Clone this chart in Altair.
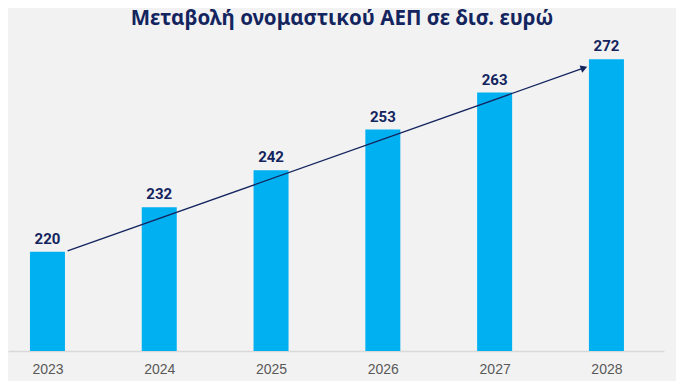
import altair as alt
import pandas as pd

years = [2023, 2024, 2025, 2026, 2027, 2028]
values = [220, 232, 242, 253, 263, 272]

arrow_x = [2023.18, 2027.80]
arrow_y = [220.2, 269.65]

title_text = "Μεταβολή ονομαστικού ΑΕΠ σε δισ. ευρώ"

df = pd.DataFrame({"year": years, "value": values})
arrow_df = pd.DataFrame({"x": arrow_x, "y": arrow_y})
head_df = arrow_df.tail(1).reset_index(drop=True)

X_DOMAIN = [2022.647, 2028.515]
Y_DOMAIN = [193.16, 275.05]

xs = alt.Scale(domain=X_DOMAIN, nice=False, zero=False, padding=0)
ys = alt.Scale(domain=Y_DOMAIN, nice=False, zero=False, padding=0)

NAVY = "#13245e"

bars = alt.Chart(df).mark_bar(color="#00b0f0", size=35, clip=True).encode(
    x=alt.X("year:Q", scale=xs,
            axis=alt.Axis(values=years, format="d", title=None, grid=False,
                          domain=True, domainColor="#d9d9d9", domainWidth=1.5,
                          ticks=False, labelFont="Liberation Sans",
                          labelFontSize=14, labelColor="#595959", labelPadding=11)),
    y=alt.Y("value:Q", scale=ys, axis=None),
)

labels = alt.Chart(df).mark_text(
    dy=-13, fontSize=15, fontWeight="bold", color=NAVY, font="Roboto"
).encode(x=alt.X("year:Q", scale=xs), y=alt.Y("value:Q", scale=ys), text="value:Q")

line = alt.Chart(arrow_df).mark_line(color=NAVY, strokeWidth=1.3).encode(
    x=alt.X("x:Q", scale=xs), y=alt.Y("y:Q", scale=ys)
)

head = alt.Chart(head_df).mark_point(
    shape="triangle-right", filled=True, color=NAVY, size=60, angle=340.5, opacity=1
).encode(x=alt.X("x:Q", scale=xs), y=alt.Y("y:Q", scale=ys))

chart = alt.layer(bars, labels, line, head).properties(
    width=656,
    height=303,
    padding={"left": 0, "top": 40, "right": 12, "bottom": 30},
    autosize=alt.AutoSizeParams(type="none"),
    background="#f2f2f2",
    title=alt.TitleParams(
        text=title_text, font="Noto Sans", fontSize=20.5, fontWeight="bold",
        color=NAVY, anchor="middle", frame="group", offset=10, dx=6
    ),
).configure_view(stroke=None)

chart.save("out.html", embed_options={"renderer": "svg", "actions": False})
